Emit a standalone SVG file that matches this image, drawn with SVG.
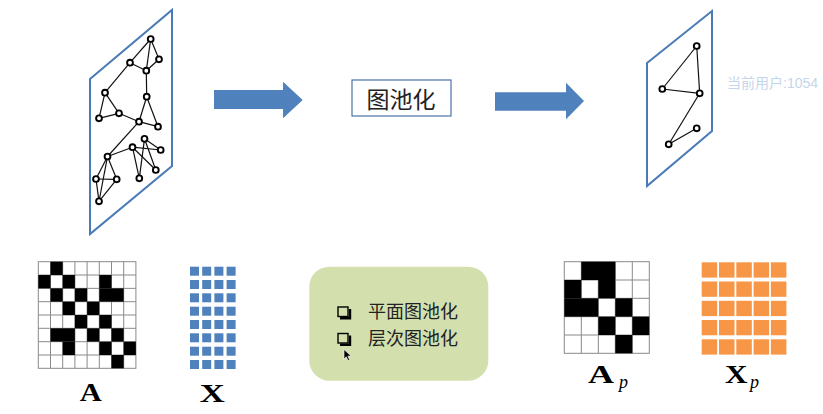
<svg xmlns="http://www.w3.org/2000/svg" width="823" height="414" viewBox="0 0 823 414">
<style>
.plane{fill:none;stroke:#4a7bb7;stroke-width:2}
.e{stroke:#111;stroke-width:1.2}
.n{fill:#fff;stroke:#000;stroke-width:1.9}
.g{fill:#fff;stroke:#8a8a8a;stroke-width:1}
.bx{fill:#4f81bd}
.ox{fill:#f79646}
.lab{font-family:"Liberation Serif",serif;font-weight:bold;fill:#000}
.cjk{font-family:"Noto Sans CJK SC",sans-serif;fill:#222}
</style>
<rect width="823" height="414" fill="#fff"/>

<g id="graph-left">
<polygon class="plane" points="90,79 172,10 172,166 90,234"/>
<g>
<line class="e" x1="150.7" y1="39" x2="130" y2="62.7"/>
<line class="e" x1="150.7" y1="39" x2="159" y2="59.3"/>
<line class="e" x1="150.7" y1="39" x2="146.3" y2="70.7"/>
<line class="e" x1="159" y1="59.3" x2="146.3" y2="70.7"/>
<line class="e" x1="130" y1="62.7" x2="146.3" y2="70.7"/>
<line class="e" x1="146.3" y1="70.7" x2="146.7" y2="96.7"/>
<line class="e" x1="130" y1="62.7" x2="105" y2="92.7"/>
<line class="e" x1="105" y1="92.7" x2="119" y2="113.3"/>
<line class="e" x1="105" y1="92.7" x2="99" y2="118.3"/>
<line class="e" x1="99" y1="118.3" x2="119" y2="113.3"/>
<line class="e" x1="119" y1="113.3" x2="139" y2="121.7"/>
<line class="e" x1="146.7" y1="96.7" x2="139" y2="121.7"/>
<line class="e" x1="146.7" y1="96.7" x2="158" y2="126.7"/>
<line class="e" x1="139" y1="121.7" x2="158" y2="126.7"/>
<line class="e" x1="139" y1="121.7" x2="107.5" y2="156.5"/>
<line class="e" x1="107.5" y1="156.5" x2="132.5" y2="147.2"/>
<line class="e" x1="132.5" y1="147.2" x2="160.7" y2="150"/>
<line class="e" x1="132.5" y1="147.2" x2="139.3" y2="178.3"/>
<line class="e" x1="132.5" y1="147.2" x2="155.8" y2="170"/>
<line class="e" x1="144.5" y1="138.8" x2="139.3" y2="178.3"/>
<line class="e" x1="144.5" y1="138.8" x2="155.8" y2="170"/>
<line class="e" x1="144.5" y1="138.8" x2="160.7" y2="150"/>
<line class="e" x1="107.5" y1="156.5" x2="96" y2="179"/>
<line class="e" x1="107.5" y1="156.5" x2="116.7" y2="179.3"/>
<line class="e" x1="107.5" y1="156.5" x2="99" y2="201.3"/>
<line class="e" x1="96" y1="179" x2="116.7" y2="179.3"/>
<line class="e" x1="96" y1="179" x2="99" y2="201.3"/>
<line class="e" x1="116.7" y1="179.3" x2="99" y2="201.3"/>
</g>
<g>
<circle class="n" cx="150.7" cy="39" r="2.9"/>
<circle class="n" cx="159" cy="59.3" r="2.9"/>
<circle class="n" cx="130" cy="62.7" r="2.9"/>
<circle class="n" cx="146.3" cy="70.7" r="2.9"/>
<circle class="n" cx="146.7" cy="96.7" r="2.9"/>
<circle class="n" cx="105" cy="92.7" r="2.9"/>
<circle class="n" cx="119" cy="113.3" r="2.9"/>
<circle class="n" cx="99" cy="118.3" r="2.9"/>
<circle class="n" cx="139" cy="121.7" r="2.9"/>
<circle class="n" cx="158" cy="126.7" r="2.9"/>
<circle class="n" cx="144.5" cy="138.8" r="2.9"/>
<circle class="n" cx="132.5" cy="147.2" r="2.9"/>
<circle class="n" cx="160.7" cy="150" r="2.9"/>
<circle class="n" cx="107.5" cy="156.5" r="2.9"/>
<circle class="n" cx="155.8" cy="170" r="2.9"/>
<circle class="n" cx="139.3" cy="178.3" r="2.9"/>
<circle class="n" cx="96" cy="179" r="2.9"/>
<circle class="n" cx="116.7" cy="179.3" r="2.9"/>
<circle class="n" cx="99" cy="201.3" r="2.9"/>
</g>
</g>

<g id="pool-box">
<rect x="352" y="80" width="99" height="36" fill="#fff" stroke="#4a72a8" stroke-width="1.2"/>
<text class="cjk" x="401" y="108" font-size="23" text-anchor="middle">图池化</text>
</g>

<g id="graph-right">
<polygon class="plane" points="647,63 712,11 712,131 647,186"/>
<line class="e" x1="696.7" y1="46" x2="662.3" y2="89"/>
<line class="e" x1="696.7" y1="46" x2="699.7" y2="93.3"/>
<line class="e" x1="662.3" y1="89" x2="699.7" y2="93.3"/>
<line class="e" x1="699.7" y1="93.3" x2="668.7" y2="144.3"/>
<line class="e" x1="668.7" y1="144.3" x2="696.7" y2="128.3"/>
<circle class="n" cx="696.7" cy="46" r="2.9"/>
<circle class="n" cx="662.3" cy="89" r="2.9"/>
<circle class="n" cx="699.7" cy="93.3" r="2.9"/>
<circle class="n" cx="696.7" cy="128.3" r="2.9"/>
<circle class="n" cx="668.7" cy="144.3" r="2.9"/>
</g>

<g id="connectors">
<path class="bx" d="M214,90 L283,90 L283,81.7 L302.7,100 L283,118.3 L283,109 L214,109 Z"/>
<path class="bx" d="M495,92.3 L566,92.3 L566,82.7 L584,101 L566,119.3 L566,110.7 L495,110.7 Z"/>
</g>

<text x="727" y="88" font-family="Liberation Sans,'Noto Sans CJK SC',sans-serif" font-size="14" fill="#c3d6ec">当前用户:1054</text>

<g id="matrix-A">
<g transform="translate(38.3,261.7)">
<rect class="g" x="0" y="0" width="97.6" height="106.6"/>
<path d="M12.2,0V106.6M24.4,0V106.6M36.6,0V106.6M48.8,0V106.6M61,0V106.6M73.2,0V106.6M85.4,0V106.6M0,13.33H97.6M0,26.66H97.6M0,40H97.6M0,53.3H97.6M0,66.6H97.6M0,80H97.6M0,93.3H97.6" stroke="#8a8a8a" stroke-width="1" fill="none"/>
<g fill="#000">
<rect x="12.2" y="0" width="12.2" height="13.33"/>
<rect x="0" y="13.33" width="12.2" height="13.33"/>
<rect x="24.4" y="13.33" width="12.2" height="13.33"/>
<rect x="61" y="13.33" width="12.2" height="13.33"/>
<rect x="12.2" y="26.66" width="12.2" height="13.33"/>
<rect x="36.6" y="26.66" width="12.2" height="13.33"/>
<rect x="61" y="26.66" width="24.4" height="13.33"/>
<rect x="24.4" y="40" width="12.2" height="13.33"/>
<rect x="48.8" y="40" width="12.2" height="13.33"/>
<rect x="36.6" y="53.3" width="12.2" height="13.33"/>
<rect x="61" y="53.3" width="12.2" height="13.33"/>
<rect x="12.2" y="66.6" width="24.4" height="13.33"/>
<rect x="48.8" y="66.6" width="12.2" height="13.33"/>
<rect x="73.2" y="66.6" width="12.2" height="13.33"/>
<rect x="24.4" y="80" width="12.2" height="13.33"/>
<rect x="61" y="80" width="12.2" height="13.33"/>
<rect x="85.4" y="80" width="12.2" height="13.33"/>
<rect x="73.2" y="93.3" width="12.2" height="13.33"/>
</g>
</g>
<text class="lab" x="90.7" y="400.7" font-size="25" text-anchor="middle" textLength="22" lengthAdjust="spacingAndGlyphs">A</text>
</g>

<g id="matrix-X">
<defs>
<g id="xrow">
<rect class="bx" x="0" y="0" width="9" height="9"/>
<rect class="bx" x="12.2" y="0" width="9" height="9"/>
<rect class="bx" x="24.4" y="0" width="9" height="9"/>
<rect class="bx" x="36.6" y="0" width="9" height="9"/>
</g>
</defs>
<use href="#xrow" x="190" y="266.7"/>
<use href="#xrow" x="190" y="280"/>
<use href="#xrow" x="190" y="293.3"/>
<use href="#xrow" x="190" y="306.7"/>
<use href="#xrow" x="190" y="320"/>
<use href="#xrow" x="190" y="333.3"/>
<use href="#xrow" x="190" y="346.7"/>
<use href="#xrow" x="190" y="360"/>
<text class="lab" x="212.3" y="401.5" font-size="25" text-anchor="middle" textLength="25" lengthAdjust="spacingAndGlyphs">X</text>
</g>

<g id="pooling-methods">
<rect x="309.3" y="266.7" width="179" height="114" rx="20" fill="#d3e0ae"/>
<rect x="338" y="307" width="10" height="9.5" fill="none" stroke="#000" stroke-width="1.4"/>
<path d="M340,318.3 H350 V309" fill="none" stroke="#000" stroke-width="2.4"/>
<rect x="338" y="333.5" width="10" height="9.5" fill="none" stroke="#000" stroke-width="1.4"/>
<path d="M340,344.8 H350 V335.5" fill="none" stroke="#000" stroke-width="2.4"/>
<text class="cjk" x="368" y="318" font-size="18">平面图池化</text>
<text class="cjk" x="368" y="344.5" font-size="18">层次图池化</text>
<path d="M344,349.5 L344,359 L346.3,356.8 L348,360.5 L349.6,359.8 L347.9,356.2 L351,356 Z" fill="#000" stroke="#fff" stroke-width="0.6"/>
</g>

<g id="matrix-Ap">
<g transform="translate(564.3,261.7)">
<rect class="g" x="0" y="0" width="85" height="91.6"/>
<path d="M17,0V91.6M34,0V91.6M51,0V91.6M68,0V91.6M0,18.3H85M0,36.6H85M0,55H85M0,73.3H85" stroke="#8a8a8a" stroke-width="1" fill="none"/>
<g fill="#000">
<rect x="17" y="0" width="34" height="18.3"/>
<rect x="0" y="18.3" width="17" height="18.3"/>
<rect x="34" y="18.3" width="17" height="18.3"/>
<rect x="0" y="36.6" width="34" height="18.4"/>
<rect x="51" y="36.6" width="17" height="18.4"/>
<rect x="34" y="55" width="17" height="18.3"/>
<rect x="68" y="55" width="17" height="18.3"/>
<rect x="51" y="73.3" width="17" height="18.3"/>
</g>
</g>
<text class="lab" x="588" y="383" font-size="25" textLength="26" lengthAdjust="spacingAndGlyphs">A</text>
<text x="619" y="387.5" font-family="Liberation Serif,serif" font-style="italic" font-size="18">p</text>
</g>

<g id="matrix-Xp">
<defs>
<g id="orow">
<rect class="ox" x="0" y="0" width="15.5" height="15.3"/>
<rect class="ox" x="17.3" y="0" width="15.5" height="15.3"/>
<rect class="ox" x="34.6" y="0" width="15.5" height="15.3"/>
<rect class="ox" x="51.9" y="0" width="15.5" height="15.3"/>
<rect class="ox" x="69.2" y="0" width="15.5" height="15.3"/>
</g>
</defs>
<use href="#orow" x="701.7" y="262.3"/>
<use href="#orow" x="701.7" y="281.5"/>
<use href="#orow" x="701.7" y="300.8"/>
<use href="#orow" x="701.7" y="320"/>
<use href="#orow" x="701.7" y="339.3"/>
<text class="lab" x="725" y="383.3" font-size="25" textLength="22.5" lengthAdjust="spacingAndGlyphs">X</text>
<text x="750" y="387.5" font-family="Liberation Serif,serif" font-style="italic" font-size="18">p</text>
</g>
</svg>
